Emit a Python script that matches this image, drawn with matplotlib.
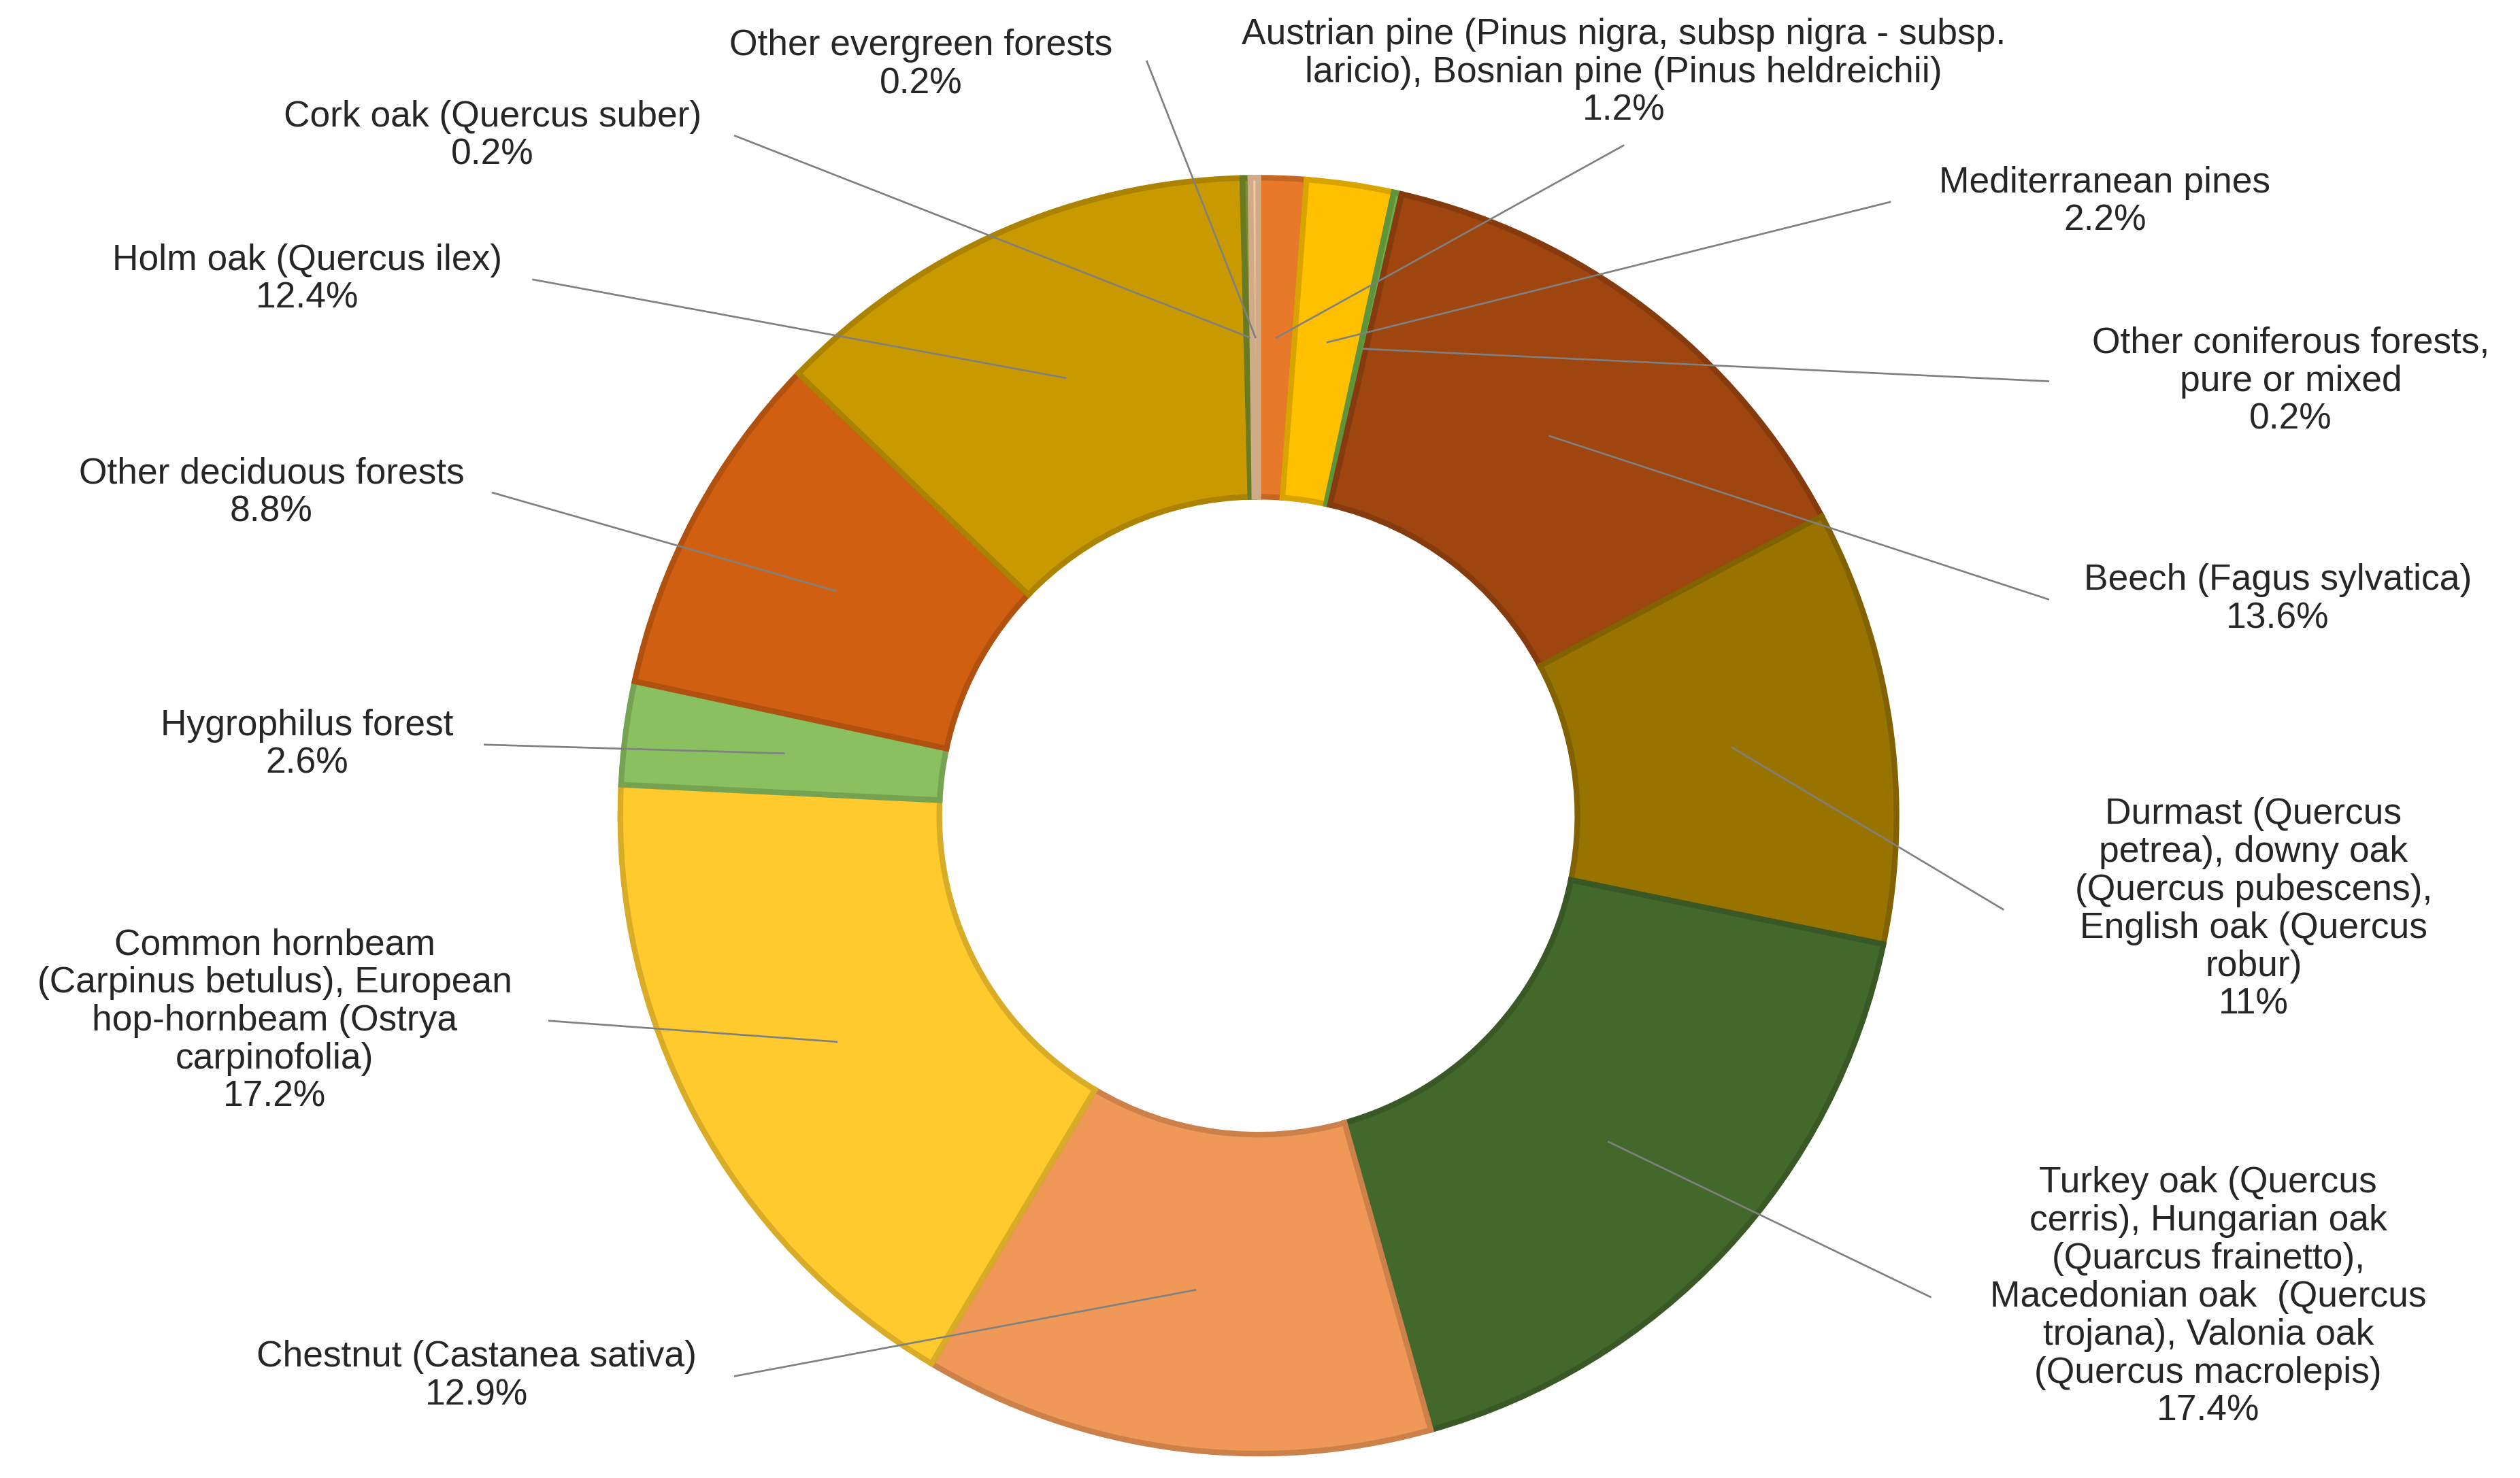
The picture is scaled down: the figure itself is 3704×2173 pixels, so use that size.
import numpy as np
import matplotlib.pyplot as plt
import matplotlib.colors as mcolors

plt.rcParams['font.family'] = ['Liberation Sans', 'DejaVu Sans']

labels = ["Austrian pine (Pinus nigra, subsp nigra - subsp.\nlaricio), Bosnian pine (Pinus heldreichii)",
          "Mediterranean pines",
          "Other coniferous forests,\npure or mixed",
          "Beech (Fagus sylvatica)",
          "Durmast (Quercus\npetrea), downy oak\n(Quercus pubescens),\nEnglish oak (Quercus\nrobur)",
          "Turkey oak (Quercus\ncerris), Hungarian oak\n(Quarcus frainetto),\nMacedonian oak  (Quercus\ntrojana), Valonia oak\n(Quercus macrolepis)",
          "Chestnut (Castanea sativa)",
          "Common hornbeam\n(Carpinus betulus), European\nhop-hornbeam (Ostrya\ncarpinofolia)",
          "Hygrophilus forest",
          "Other deciduous forests",
          "Holm oak (Quercus ilex)",
          "Cork oak (Quercus suber)",
          "Other evergreen forests"]
values = [1.2, 2.2, 0.2, 13.6, 11, 17.4, 12.9, 17.2, 2.6, 8.8, 12.4, 0.2, 0.2]
colors = ["#e8792a", "#ffc000", "#70ad47", "#9e4510", "#997300", "#43682b",
          "#f09858", "#ffca2e", "#8bc060", "#d05f12", "#c99a00", "#7a8f2a", "#f4c9a0"]

# text centres and leader-line start points (display layout)
text_pos = [(1005, 45), (1303, 125), (1418, 236), (1410, 371), (1395, 563), (1367, 803),
            (295, 852), (170, 632), (190, 461), (168, 305), (190, 173), (305, 84), (570, 40)]
line_start = [(1005, 90), (1170, 125), (1268, 236), (1268, 371), (1240, 563), (1195, 803),
              (455, 852), (340, 632), (300, 461), (305, 305), (330, 173), (455, 84), (710, 38)]

def darker(c, f=0.85):
    r, g, b = mcolors.to_rgb(c)
    return (r * f, g * f, b * f)

fig = plt.figure(figsize=(3704 / 240, 2173 / 240), dpi=240)
ax = fig.add_axes([0, 0, 1, 1])
ax.set_xlim(0, 1560)
ax.set_ylim(915, 0)
ax.axis('off')

cx, cy, R = 779, 505, 395
wedges, _ = ax.pie(values, colors=colors, center=(cx, cy), radius=R, startangle=-90,
                   counterclock=True, wedgeprops=dict(width=R * 0.5))
for w, c in zip(wedges, colors):
    w.set_edgecolor(darker(c))
    w.set_linewidth(2.5)
ax.set_xlim(0, 1560)
ax.set_ylim(915, 0)

for w, lab, v, tp, ls in zip(wedges, labels, values, text_pos, line_start):
    ang = np.deg2rad((w.theta1 + w.theta2) / 2)
    px = cx + 0.75 * R * np.cos(ang)
    py = cy + 0.75 * R * np.sin(ang)
    ax.plot([ls[0], px], [ls[1], py], color="#808080", lw=0.8)
    pct = f"{v:g}%"
    ax.text(tp[0], tp[1], lab + "\n" + pct, ha='center', va='center', fontsize=16,
            color="#262626", linespacing=1.15)

fig.savefig("out.png", dpi=240, facecolor='white')
